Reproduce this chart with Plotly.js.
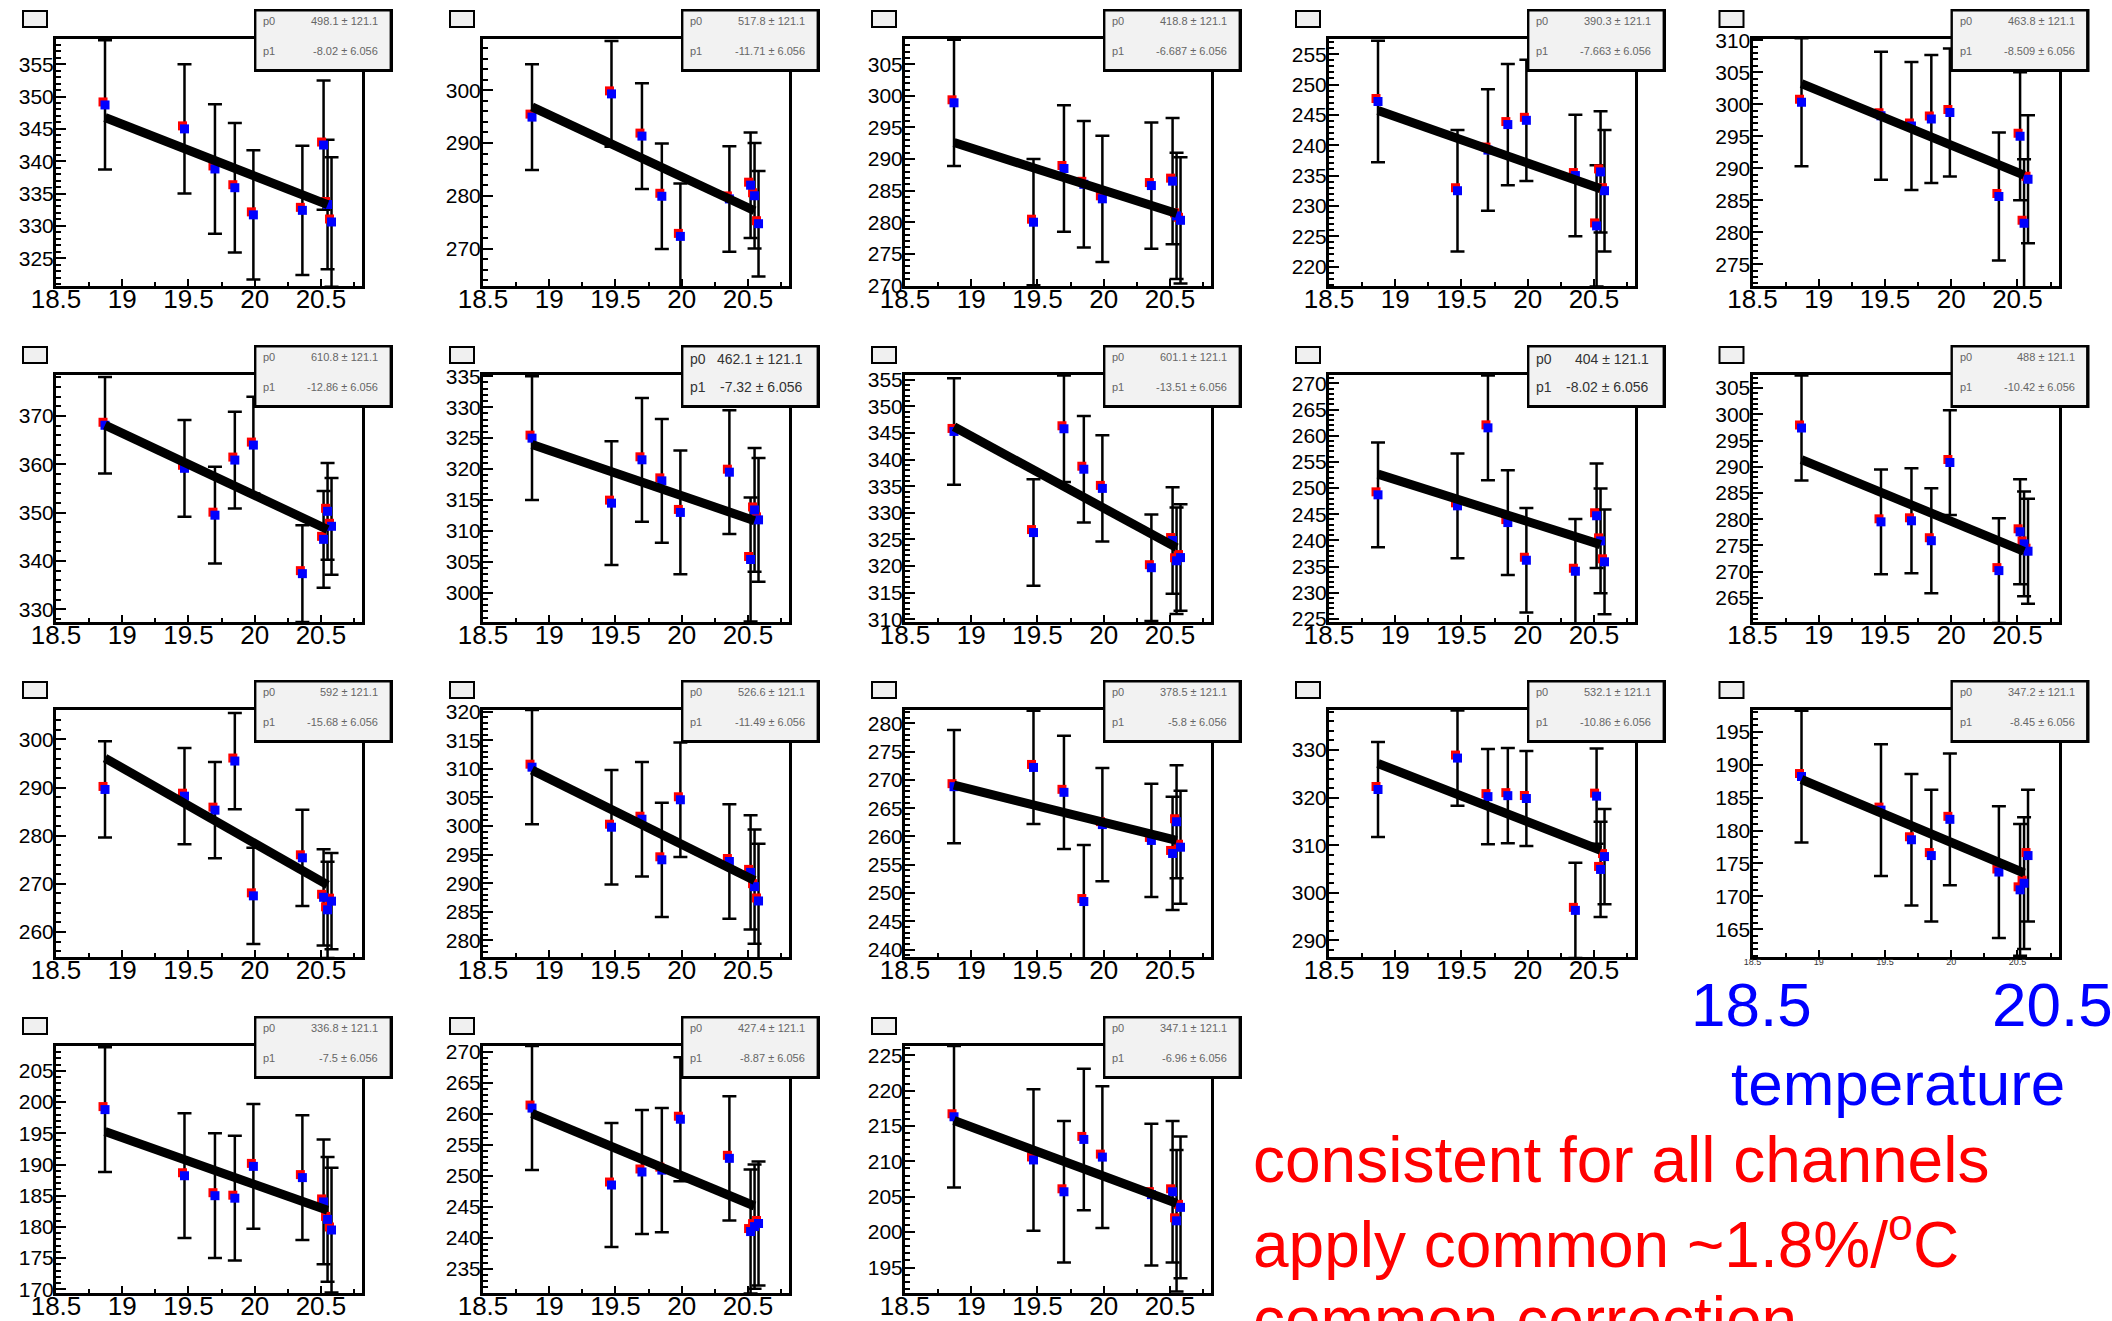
<!DOCTYPE html>
<html>
<head>
<meta charset="utf-8">
<script src="https://cdn.plot.ly/plotly-3.0.1.min.js"></script>
<style>html,body{margin:0;padding:0;background:#fff;} #chart{width:2112px;height:1321px;}</style>
</head>
<body>
<div id="chart"></div>
<script>
// ---------------- data ----------------
const temperature = [18.87, 19.47, 19.70, 19.85, 19.99, 20.36, 20.52, 20.55, 20.58];
const errorBar    = [10, 10, 10, 10, 10, 10, 10, 10, 10];

const ch01 = [348.7, 345.0, 338.8, 335.9, 331.7, 332.4, 342.5, 333.3, 330.6];
const ch02 = [294.9, 299.3, 291.3, 279.9, 272.3, 279.4, 282.0, 280.0, 274.7];
const ch03 = [298.9, 280.0, 288.5, 286.0, 283.7, 285.8, 286.5, 281.0, 280.3];
const ch04 = [247.2, 232.5, 239.2, 243.4, 244.1, 235.0, 226.7, 235.6, 232.5];
const ch05 = [300.3, 298.2, 296.6, 297.7, 298.7, 285.6, 295.0, 281.4, 288.3];
const ch06 = [368.1, 359.2, 349.5, 360.9, 364.0, 337.4, 344.5, 350.3, 347.2];
const ch07 = [325.0, 314.5, 321.5, 318.1, 313.0, 319.5, 305.4, 313.4, 311.8];
const ch08 = [345.3, 326.3, 345.8, 338.2, 334.6, 319.7, 324.8, 321.0, 321.6];
const ch09 = [248.7, 246.6, 261.5, 243.4, 236.2, 234.1, 244.7, 239.9, 235.9];
const ch10 = [297.4, 279.5, 279.7, 275.9, 290.8, 270.2, 277.6, 275.3, 273.9];
const ch11 = [289.6, 288.2, 285.3, 295.5, 267.5, 275.4, 267.2, 264.6, 266.4];
const ch12 = [310.3, 299.8, 301.2, 294.1, 304.6, 293.8, 291.9, 289.4, 286.9];
const ch13 = [268.8, 272.2, 267.8, 248.5, 262.1, 259.3, 257.0, 262.6, 258.1];
const ch14 = [321.7, 328.3, 320.2, 320.4, 319.8, 296.3, 320.3, 304.9, 307.6];
const ch15 = [188.2, 183.1, 178.6, 176.2, 181.7, 173.7, 171.0, 172.0, 176.2];
const ch16 = [198.8, 188.2, 185.0, 184.6, 189.7, 187.9, 184.0, 181.2, 179.5];
const ch17 = [260.9, 248.5, 250.6, 250.9, 259.1, 252.8, 241.0, 241.8, 242.3];
const ch18 = [216.3, 210.2, 205.7, 213.1, 210.6, 205.3, 205.7, 201.6, 203.5];
const channels = [ch01, ch02, ch03, ch04, ch05, ch06, ch07, ch08, ch09,
                  ch10, ch11, ch12, ch13, ch14, ch15, ch16, ch17, ch18];

// linear fit parameters shown in the stats boxes: y = p0 + p1 * T
const fitP0 = [498.1, 517.8, 418.8, 390.3, 463.8, 610.8, 462.1, 601.1, 404,
               488, 592, 526.6, 378.5, 532.1, 347.2, 336.8, 427.4, 347.1];
const fitP1 = [-8.02, -11.71, -6.687, -7.663, -8.509, -12.86, -7.32, -13.51, -8.02,
               -10.42, -15.68, -11.49, -5.8, -10.86, -8.45, -7.5, -8.87, -6.96];
const fitP0Err = 121.1;
const fitP1Err = 6.056;
const fitRange = [18.87, 20.55];

const xTicks = [18.5, 19, 19.5, 20, 20.5];

// ---------------- layout configuration ----------------
const yRanges = [[320.7, 358.9], [262.9, 309.7], [269.9, 309.0], [216.8, 257.5], [271.6, 310.2],
                 [327.4, 378.5], [295.3, 335.2], [309.5, 355.9], [224.4, 271.6], [260.4, 307.5],
                 [254.8, 306.1], [277.1, 320.3], [238.7, 282.35], [286.5, 338.4], [160.8, 198.3],
                 [169.4, 209.0], [231.1, 270.9], [191.4, 226.3]];
const yDticks = [5, 10, 5, 5, 5, 10, 5, 5, 5, 5, 10, 5, 5, 10, 5, 5, 5, 5];
const xRange = [18.5, 20.81];
const largeStats = [6, 8];
const tinyXLabels = [14];

const W = 2112, H = 1321;
const colLeft = [56, 483, 905, 1329, 1752.5];
const rowTop = [39, 375, 710, 1046];
const FW = 306, FH = 247;
const FONT = 'Liberation Sans, Arial, Helvetica, sans-serif';
const px = v => v / W;
const py = v => 1 - v / H;
const aid = n => (n === 1 ? '' : String(n));

const layout = {
  width: W, height: H,
  margin: {l: 0, r: 0, t: 0, b: 0},
  paper_bgcolor: '#ffffff',
  plot_bgcolor: 'rgba(0,0,0,0)',
  showlegend: false,
  font: {family: FONT, color: '#000'},
  shapes: [],
  annotations: []
};
const data = [];
const errT = [], redT = [], blueT = [], lineT = [];

channels.forEach((ch, i) => {
  const c = i % 5, r = Math.floor(i / 5);
  const L = colLeft[c], T = rowTop[r], R = L + FW, B = T + FH;
  const n1 = i + 1, n2 = i + 19, n3 = i + 37;
  const xd = [px(L), px(R)], yd = [py(B), py(T)];
  const dt = yDticks[i];
  const tiny = tinyXLabels.includes(i);

  layout['xaxis' + aid(n1)] = {
    domain: xd, range: xRange, anchor: 'y' + aid(n1),
    tickmode: 'array', tickvals: xTicks, ticktext: xTicks.map(String),
    ticks: 'inside', ticklen: 7, tickwidth: 2, tickcolor: '#000',
    ticklabelstandoff: tiny ? -6 : -12,
    minor: {ticks: 'inside', ticklen: 4, tickwidth: 2, tickcolor: '#000', dtick: 0.25, tick0: 18.5, showgrid: false},
    showline: true, linewidth: 3, linecolor: '#000', mirror: true,
    showgrid: false, zeroline: false, tickangle: 0, fixedrange: true,
    tickfont: {family: FONT, size: tiny ? 9 : 26, color: tiny ? '#333' : '#000'}
  };
  layout['yaxis' + aid(n1)] = {
    domain: yd, range: yRanges[i], anchor: 'x' + aid(n1),
    tickmode: 'linear', tick0: 0, dtick: dt,
    ticks: 'inside', ticklen: 10, tickwidth: 2, tickcolor: '#000',
    ticklabelstandoff: -5,
    minor: {ticks: 'inside', ticklen: 5, tickwidth: 2, tickcolor: '#000', dtick: dt / 5, tick0: 0, showgrid: false},
    showline: true, linewidth: 3, linecolor: '#000', mirror: true,
    showgrid: false, zeroline: false, fixedrange: true,
    tickfont: {family: FONT, size: 21, color: '#000'}
  };
  // red marker layer, shifted a couple of pixels up-left
  layout['xaxis' + aid(n2)] = {domain: [px(L - 2), px(R - 2)], range: xRange, anchor: 'y' + aid(n2), visible: false, fixedrange: true};
  layout['yaxis' + aid(n2)] = {domain: [py(B - 3), py(T - 3)], range: yRanges[i], anchor: 'x' + aid(n2), visible: false, fixedrange: true};
  // blue marker + fit layer
  layout['xaxis' + aid(n3)] = {domain: xd, range: xRange, anchor: 'y' + aid(n3), visible: false, fixedrange: true};
  layout['yaxis' + aid(n3)] = {domain: yd, range: yRanges[i], anchor: 'x' + aid(n3), visible: false, fixedrange: true};

  errT.push({
    type: 'scatter', mode: 'markers', x: temperature, y: ch,
    xaxis: 'x' + aid(n1), yaxis: 'y' + aid(n1),
    marker: {size: 2, color: 'rgba(0,0,0,0)'},
    error_y: {type: 'data', array: errorBar, visible: true, color: '#000', thickness: 2.5, width: 7},
    hoverinfo: 'skip'
  });
  redT.push({
    type: 'scatter', mode: 'markers', x: temperature, y: ch,
    xaxis: 'x' + aid(n2), yaxis: 'y' + aid(n2),
    marker: {symbol: 'square', size: 9, color: '#ff0000', line: {width: 0}},
    hoverinfo: 'skip'
  });
  blueT.push({
    type: 'scatter', mode: 'markers', x: temperature, y: ch,
    xaxis: 'x' + aid(n3), yaxis: 'y' + aid(n3),
    marker: {symbol: 'square', size: 9, color: '#0000ff', line: {width: 0}},
    hoverinfo: 'skip'
  });
  lineT.push({
    type: 'scatter', mode: 'lines', x: fitRange, y: fitRange.map(t => fitP0[i] + fitP1[i] * t),
    xaxis: 'x' + aid(n3), yaxis: 'y' + aid(n3),
    line: {color: '#000', width: 9},
    hoverinfo: 'skip'
  });

  // title placeholder box (top-left)
  layout.shapes.push({type: 'rect', xref: 'paper', yref: 'paper', layer: 'above',
    x0: px(L - 34), x1: px(L - 8), y0: py(T - 11), y1: py(T - 29), fillcolor: '#000', line: {width: 0}});
  layout.shapes.push({type: 'rect', xref: 'paper', yref: 'paper', layer: 'above',
    x0: px(L - 32), x1: px(L - 10), y0: py(T - 13), y1: py(T - 27), fillcolor: '#f0f0f0', line: {width: 0}});

  // stats box with shadow
  const SL = R - 108, SR = R + 31, ST = T - 30, SB = T + 33;
  layout.shapes.push({type: 'rect', xref: 'paper', yref: 'paper', layer: 'above',
    x0: px(SL), x1: px(SR), y0: py(SB), y1: py(ST), fillcolor: '#000', line: {width: 0}});
  layout.shapes.push({type: 'rect', xref: 'paper', yref: 'paper', layer: 'above',
    x0: px(SL + 2.4), x1: px(SR - 3.4), y0: py(SB - 3), y1: py(ST + 2.4), fillcolor: '#f2f2f2', line: {width: 0}});

  const big = largeStats.includes(i);
  const sf = {family: FONT, size: big ? 14 : 11, color: big ? '#333' : '#666'};
  const rows = [['p0', fitP0[i] + ' \u00b1 ' + fitP0Err, big ? 14 : 12],
                ['p1', fitP1[i] + ' \u00b1 ' + fitP1Err, 42]];
  rows.forEach(([name, val, dy]) => {
    layout.annotations.push({xref: 'paper', yref: 'paper', showarrow: false, x: px(SL + 7), y: py(ST + dy),
      xanchor: 'left', yanchor: 'middle', text: name, font: sf});
    layout.annotations.push({xref: 'paper', yref: 'paper', showarrow: false, x: px(SR - (big ? 15 : 13)), y: py(ST + dy),
      xanchor: 'right', yanchor: 'middle', text: val, font: sf});
  });
});

data.push(...errT, ...redT, ...blueT, ...lineT);

// big free-standing texts
function addText(text, x, baseline, size, color, anchor) {
  layout.annotations.push({xref: 'paper', yref: 'paper', showarrow: false,
    x: px(x), y: py(baseline - 0.36 * size), xanchor: anchor, yanchor: 'middle',
    text: text, font: {family: FONT, size: size, color: color}});
}
addText('18.5', 1751, 1027, 62, '#0000ff', 'center');
addText('20.5', 1990, 1027, 62, '#0000ff', 'left');
addText('temperature', 1729, 1106, 62, '#0000ff', 'left');
addText('consistent for all channels', 1251, 1183, 64, '#ff0000', 'left');
addText('apply common ~1.8%/<sup>o</sup>C', 1251, 1263, 64, '#ff0000', 'left');
addText('common correction', 1251, 1343, 64, '#ff0000', 'left');

Plotly.newPlot('chart', data, layout, {staticPlot: true, displayModeBar: false});
</script>
</body>
</html>
